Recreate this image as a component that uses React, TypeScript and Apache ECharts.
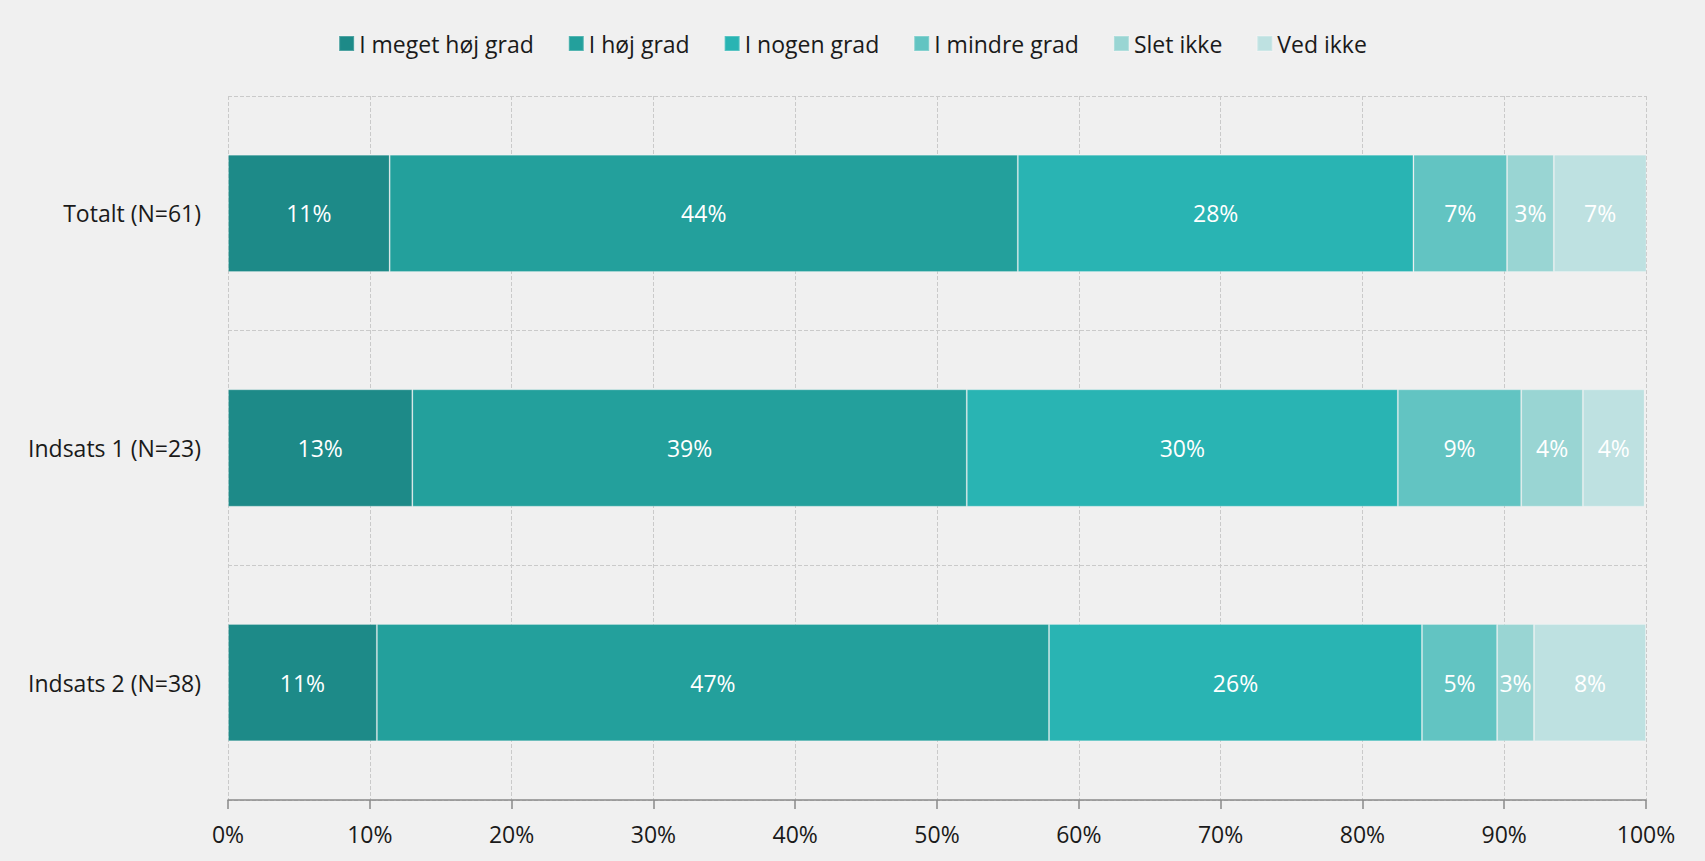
import React, { useEffect, useRef } from "react";
import * as echarts from "echarts";

const categories = ["Totalt (N=61)", "Indsats 1 (N=23)", "Indsats 2 (N=38)"];
const seriesNames = ["I meget høj grad", "I høj grad", "I nogen grad", "I mindre grad", "Slet ikke", "Ved ikke"];
const colors = ["#1d8a88", "#23a09c", "#29b4b3", "#62c4c2", "#99d5d3", "#bee1e1"];
const meget = [11.4, 13.0, 10.5];
const hoej = [44.3, 39.1, 47.4];
const nogen = [27.9, 30.4, 26.3];
const mindre = [6.6, 8.7, 5.3];
const slet = [3.3, 4.35, 2.6];
const vedIkke = [6.6, 4.35, 7.9];
const xTicks = [0, 10, 20, 30, 40, 50, 60, 70, 80, 90, 100];

const FONT = "'Open Sans', 'Noto Sans', sans-serif";
const FS = 23;

export default function App() {
  const ref = useRef<HTMLDivElement>(null);
  useEffect(() => {
    document.body.style.margin = "0";
    document.body.style.background = "#f0f0f0";
    const chart = echarts.init(ref.current!, null, { renderer: "svg" });
    const values = [meget, hoej, nogen, mindre, slet, vedIkke];
    chart.setOption({
      animation: false,
      backgroundColor: "#f0f0f0",
      textStyle: { fontFamily: FONT },
      legend: {
        top: 27,
        left: "center",
        itemWidth: 15,
        itemHeight: 15,
        itemGap: 34,
        icon: "rect",
        textStyle: { fontSize: FS, color: "#1a1a1a", fontFamily: FONT },
        data: seriesNames,
      },
      grid: { left: 228, right: 59, top: 96, bottom: 61, containLabel: false },
      xAxis: {
        type: "value",
        min: 0,
        max: 100,
        interval: 10,
        axisLine: { show: true, lineStyle: { color: "#8a8a8a", width: 1.5 } },
        axisTick: { show: true, length: 9, lineStyle: { color: "#8a8a8a", width: 1.5 } },
        axisLabel: {
          margin: 22,
          fontSize: FS,
          color: "#1a1a1a",
          fontFamily: FONT,
          formatter: (v: number) => (xTicks.includes(v) ? v + "%" : ""),
        },
        splitLine: { show: true, lineStyle: { type: "dashed", color: "#cacaca", width: 1 } },
      },
      yAxis: {
        type: "category",
        inverse: true,
        data: categories,
        axisLine: { show: false },
        axisTick: { show: false },
        axisLabel: { margin: 27, fontSize: FS, color: "#1a1a1a", fontFamily: FONT },
        splitLine: { show: true, lineStyle: { type: "dashed", color: "#cacaca", width: 1 } },
      },
      series: seriesNames.map((name, i) => ({
        name,
        type: "bar",
        stack: "total",
        barWidth: "50%",
        data: values[i],
        itemStyle: { color: colors[i], borderColor: "rgba(255,255,255,0.22)", borderWidth: 1 },
        label: {
          show: true,
          position: "inside",
          color: "#ffffff",
          fontSize: FS,
          fontFamily: FONT,
          formatter: (p: any) => Math.round(p.value) + "%",
        },
      })),
    });
    return () => chart.dispose();
  }, []);
  return <div ref={ref} style={{ width: 1705, height: 861 }} />;
}
